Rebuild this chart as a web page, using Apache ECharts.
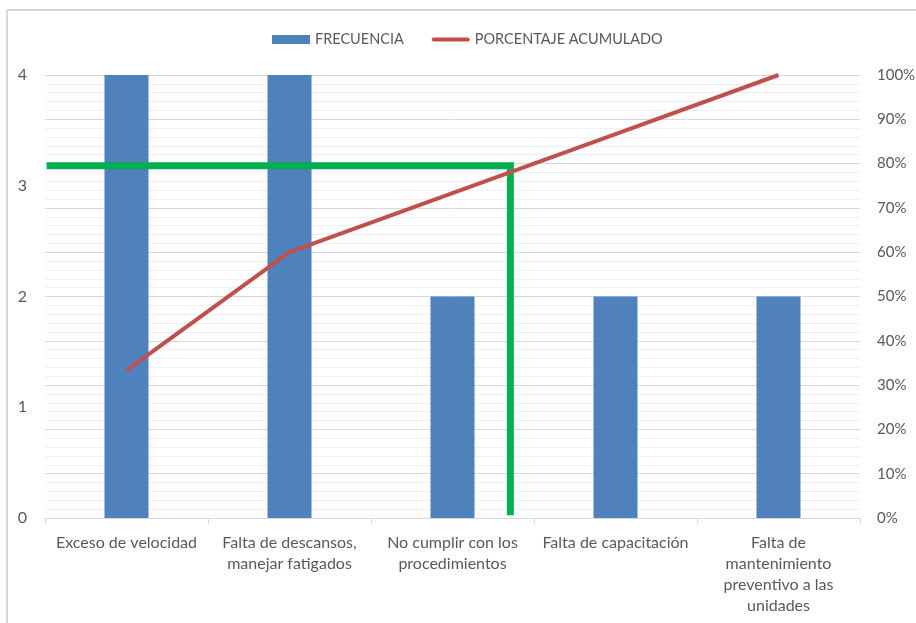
<!DOCTYPE html>
<html>
<head>
<meta charset="utf-8">
<script src="https://cdn.jsdelivr.net/npm/echarts@6/dist/echarts.min.js"></script>
<style>
  html, body { margin: 0; padding: 0; background: #ffffff; overflow: hidden; }
  #chart { width: 916px; height: 623px; }
</style>
</head>
<body>
<div id="chart"></div>
<script>
// Causas de accidentes: frecuencia y porcentaje acumulado (Pareto)
const categories = [
  'Exceso de velocidad',
  'Falta de descansos,\nmanejar fatigados',
  'No cumplir con los\nprocedimientos',
  'Falta de capacitación',
  'Falta de\nmantenimiento\npreventivo a las\nunidades'
];
const frecuencia = [4, 4, 2, 2, 2];
const porcentajeAcumulado = [33.33, 60, 73.33, 86.67, 100];
// Línea de corte del 80 %: posición sobre un eje continuo de categorías (0–5)
const corte80 = [[0.01, 79.5], [2.855, 79.5], [2.855, 0.6]];
const freqTicks = [0, 1, 2, 3, 4];

const FONT = 'Lato';
const GREY = '#595959';

const chart = echarts.init(document.getElementById('chart'), null, { renderer: 'canvas', width: 916, height: 623 });

chart.setOption({
  backgroundColor: '#ffffff',
  animation: false,
  textStyle: { fontFamily: FONT },
  graphic: [{
    type: 'rect',
    shape: { x: 7, y: 10, width: 1000, height: 700 },
    style: { fill: 'none', stroke: '#d9d9d9', lineWidth: 2 },
    silent: true
  }],
  legend: {
    top: 27,
    left: 267,
    itemGap: 28,
    itemWidth: 38,
    itemHeight: 9,
    textStyle: { color: GREY, fontSize: 14.5, fontFamily: FONT },
    data: [
      { name: 'FRECUENCIA', icon: 'rect' },
      { name: 'PORCENTAJE ACUMULADO', icon: 'path://M2,0 H38 A2,2 0 0 1 38,4 H2 A2,2 0 0 1 2,0 Z' }
    ]
  },
  grid: {
    left: 45, right: 56, top: 75, bottom: 105,
    containLabel: false,
    outerBoundsMode: 'none'
  },
  xAxis: [{
    type: 'category',
    data: categories,
    boundaryGap: true,
    axisLine: { lineStyle: { color: '#d9d9d9', width: 1 } },
    axisTick: { show: true, length: 6, lineStyle: { color: '#d9d9d9' } },
    axisLabel: {
      color: GREY, fontSize: 16, fontFamily: FONT, margin: 14,
      lineHeight: 21, interval: 0, align: 'center', verticalAlign: 'top'
    },
    splitLine: { show: false }
  }, {
    type: 'value',
    min: 0, max: 5,
    show: false
  }],
  yAxis: [{
    type: 'value',
    min: 0, max: 4, interval: 1,
    axisLine: { show: false },
    axisTick: { show: false },
    axisLabel: {
      color: GREY, fontSize: 16, fontFamily: FONT, margin: 18,
      formatter: v => freqTicks.includes(v) ? String(v) : ''
    },
    splitLine: { show: false }
  }, {
    type: 'value',
    min: 0, max: 100, interval: 10,
    position: 'right',
    axisLine: { show: false },
    axisTick: { show: false },
    axisLabel: { color: GREY, fontSize: 15, fontFamily: FONT, margin: 17, formatter: '{value}%' },
    splitLine: { show: true, lineStyle: { color: '#d9d9d9', width: 1 } },
    minorTick: { show: false, splitNumber: 5 },
    minorSplitLine: { show: true, lineStyle: { color: '#f0f0f0', width: 1 } }
  }],
  series: [{
    name: 'FRECUENCIA',
    type: 'bar',
    data: frecuencia,
    barWidth: '27%',
    itemStyle: { color: '#4F81BD' },
    z: 2
  }, {
    name: 'Corte 80%',
    type: 'line',
    xAxisIndex: 1,
    yAxisIndex: 1,
    data: corte80,
    symbol: 'none',
    lineStyle: { color: '#00B050', width: 7, cap: 'butt', join: 'miter' },
    itemStyle: { color: '#00B050' },
    z: 3
  }, {
    name: 'PORCENTAJE ACUMULADO',
    type: 'line',
    yAxisIndex: 1,
    data: porcentajeAcumulado,
    symbol: 'none',
    lineStyle: { color: '#C0504D', width: 4 },
    itemStyle: { color: '#C0504D' },
    z: 4
  }]
});
</script>
</body>
</html>
